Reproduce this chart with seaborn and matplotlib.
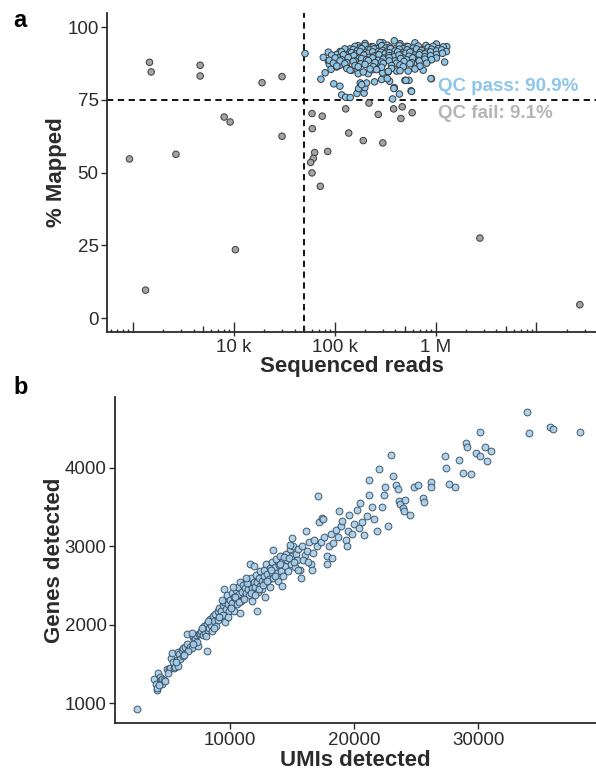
import numpy as np
import pandas as pd
import matplotlib
matplotlib.use("Agg")
import matplotlib.pyplot as plt
import seaborn as sns

# ---------------- data: panel a (reads in thousands, % mapped) ----------------
fail_reads_k = [0.925, 1.46, 1.517, 1.334, 2.67, 4.64, 4.64, 8.02, 9.19, 10.37,
                19.06, 30.06, 30.06, 59.6, 75.3, 60.0, 137.7, 192.0, 300.0, 128.5,
                218.9, 270.4, 383.7, 467.0, 453.0, 586.0, 85.3, 63.3, 61.4, 57.8,
                59.6, 72.0, 2750.0, 26900.0]
fail_mapped = [54.7, 87.9, 84.6, 9.6, 56.3, 86.9, 83.2, 69.1, 67.4, 23.5,
               80.9, 83.0, 62.5, 70.3, 69.4, 65.1, 63.6, 61.0, 60.2, 71.9,
               73.9, 70.0, 71.9, 72.6, 68.6, 70.6, 57.3, 56.9, 54.9, 53.5,
               49.9, 45.3, 27.5, 4.6]

pass_reads_k = [
    50.8, 86.5, 88.6, 92.1, 80.4, 73.0, 97.9, 112.6, 117.2, 128.5, 142.6, 166.3, 195.6, 172.8,
    179.3, 199, 207, 248, 292, 350, 390, 375, 438, 497, 545, 572, 910, 1230, 298, 340, 411,
    535, 686, 754, 825, 104.7, 112.6, 131.6, 147.5, 171, 215, 241, 270, 185, 332, 386, 508, 578, 900,
    300, 390,
    171, 200, 232, 281, 332, 444, 516, 624, 802, 1020, 1290,
    142, 159, 178, 200, 215, 241, 264, 292, 322, 353, 396, 437, 478, 535, 600, 673, 754, 845, 947, 1060, 1190,
    113, 126, 142, 153, 167, 185, 203, 224, 245, 270, 299, 327, 358, 396, 437, 478, 523, 578, 648, 727, 815, 913, 1020, 1150, 1280,
    86.5, 105, 117, 132, 147, 163, 178, 196, 215, 238, 260, 287, 315, 347, 381, 421, 461, 508, 557, 624, 700, 784, 892, 1020, 1170,
    77.1, 93.3, 109, 122, 140, 155, 175, 195, 219, 245, 275, 308, 345, 387, 434, 486, 545, 611, 689, 784, 892, 1020,
    88.5, 101, 117, 136, 159, 185, 207, 238, 270, 303, 347, 396, 450, 516, 592, 679, 784, 913,
    96.9, 113, 132, 153, 181, 215, 251, 292, 347, 411, 486, 578, 689, 815,
    105, 126, 159, 200, 241, 303, 366, 444, 557, 700,
    132, 171, 224, 292, 366, 478, 624,
    142, 192, 260, 340, 444,
]
pass_mapped = [
    90.9, 88.3, 87.2, 85.5, 84.3, 82.1, 80.5, 79.7, 76.7, 75.9, 75.8, 77.2, 77.3, 78.9,
    80.8, 79.2, 80.8, 81.2, 82.0, 81.4, 79.2, 75.3, 77.0, 81.7, 81.7, 78.1, 82.3, 88.0, 84.3, 84.6, 84.9,
    84.9, 86.7, 85.2, 88.0, 86.3, 86.9, 86.3, 85.2, 84.0, 84.0, 85.4, 85.8, 80.2, 82.3, 78.9, 81.7, 77.9, 82.3,
    94.6, 95.3,
    93.6, 94.4, 93.3, 94.7, 93.8, 94.3, 93.4, 94.6, 93.7, 94.2, 93.3,
    92.5, 93.4, 92.8, 93.7, 92.4, 93.2, 92.6, 93.6, 92.8, 93.1, 92.5, 93.7, 92.6, 93.3, 92.8, 93.5, 92.3, 93.0, 93.4, 92.6, 93.2,
    91.6, 92.5, 91.4, 92.3, 91.8, 92.6, 91.3, 92.2, 92.5, 91.6, 92.0, 91.4, 92.6, 91.8, 92.4, 91.3, 92.2, 91.6, 92.5, 92.0, 91.4, 92.4, 91.8, 92.2, 91.6,
    91.4, 90.6, 91.5, 90.4, 91.2, 90.8, 91.6, 90.5, 91.0, 91.5, 90.3, 91.4, 90.8, 91.2, 90.4, 91.5, 90.6, 91.0, 91.4, 90.4, 91.2, 90.8, 91.5, 90.6, 91.0,
    89.6, 90.4, 89.4, 90.5, 89.8, 90.2, 89.3, 90.4, 89.6, 90.0, 90.5, 89.4, 90.2, 89.8, 90.4, 89.3, 90.0, 89.6, 90.5, 89.8, 90.2, 89.4,
    88.6, 89.4, 88.8, 89.5, 88.4, 89.2, 88.8, 89.4, 88.6, 89.0, 89.5, 88.4, 89.2, 88.8, 89.4, 88.6, 89.0, 88.8,
    87.6, 88.4, 87.8, 88.2, 87.4, 88.5, 87.8, 88.0, 88.4, 87.6, 88.2, 87.8, 88.4, 87.6,
    86.6, 87.4, 86.8, 87.2, 86.4, 87.5, 86.8, 87.0, 87.4, 86.6,
    85.8, 86.4, 85.6, 86.2, 85.8, 86.4, 85.6,
    85.2, 84.6, 85.4, 84.8, 85.0,
]

read_threshold = 50000
mapped_threshold = 75
x_tick_values = [1e4, 1e5, 1e6]
x_tick_labels = ["10 k", "100 k", "1 M"]
y_ticks_a = [0, 25, 50, 75, 100]
pass_label = "QC pass: 90.9%"
fail_label = "QC fail: 9.1%"

# ---------------- data: panel b (UMIs, genes) ----------------
umis = [
    2500, 3900, 4050, 4100, 4150, 4200, 4350, 4450, 4500, 4550, 4700, 4800, 4900, 5050, 5150,
    5250, 5300, 5400, 5500, 5600, 5700, 5800, 5900, 6000, 6100, 6200, 6250, 6400, 6500, 6550,
    6700, 6800, 6900, 7000, 7100, 7200, 7300, 7400, 7500, 7600, 7700, 7800, 7900, 8000, 8100,
    8150, 8250, 8300, 8400, 8500, 8550, 8600, 8700, 8800, 8900, 9000, 9050, 9150, 9200, 9300,
    9400, 9450, 9550, 9600, 9700, 9750, 9850, 9900, 10000, 10050, 10150, 10200, 10300, 10350, 10450,
    10500, 10600, 10650, 10750, 10800, 10900, 11000, 11050, 11150, 11200, 11300, 11350, 11450, 11500, 11600,
    11650, 11750, 11800, 11900, 12000, 12100, 12150, 12250, 12300, 12400, 12450, 12550, 12600, 12700, 12750,
    12850, 12900, 13000, 13100, 13200, 13250, 13350, 13400, 13500, 13600, 13700, 13800, 13850, 13950, 14000,
    14100, 14200, 14300, 14400, 14500, 14600, 14700, 14800, 14900, 15000, 15100, 15200, 15300, 15400, 15500,
    15600, 15800, 16000, 16200, 16400, 16500, 16700, 17000, 17100, 17200, 17300, 17400, 17600, 17800, 18000,
    18100, 18300, 18500, 18700, 18900, 19000, 17800, 19300, 19500, 19600, 19800, 20000, 20200, 20400, 20600,
    20800, 21000, 21200, 21200, 21400, 21600, 22000, 22200, 22400, 22700, 23000, 23100, 23400, 23500, 23600,
    23700, 23900, 24100, 24000, 24800, 25100, 25500, 25600, 26200, 26200, 27300, 27400, 27600, 28100, 28400,
    28800, 29000, 29100, 29400, 29800, 30100, 30100, 30500, 30700, 31000, 33900, 34100, 35800, 36000, 38200,
    8200, 8700, 9100, 9350, 9800, 10100, 10400, 10700, 11100, 11400, 11700, 12050, 12350, 12650, 12950,
    13300, 13650, 14050, 14350, 14750, 15150, 15450, 15900, 16300, 16800, 7350, 6600, 5850, 10250, 11250,
    11600, 14800, 12150, 8170, 6900,
    9500, 10800, 11900, 12800, 13500, 14200, 15000, 15700, 16100, 16600, 17500, 18200, 18800, 19400,
    20500, 21800, 22500, 24500, 4300, 5000, 5650, 6300, 7050, 7750,
]
genes = [
    930, 1310, 1240, 1170, 1200, 1390, 1340, 1300, 1250, 1310, 1300, 1290, 1440, 1440, 1450,
    1580, 1640, 1530, 1450, 1460, 1550, 1650, 1630, 1560, 1680, 1700, 1600, 1720, 1760, 1880,
    1690, 1720, 1700, 1850, 1800, 1830, 1870, 1730, 1880, 1900, 1920, 1870, 1990, 1900, 1860,
    2010, 1930, 1960, 2080, 2000, 1920, 2110, 2050, 2140, 1990, 2180, 2060, 2220, 2110, 2180,
    2250, 2130, 2290, 2040, 2200, 2380, 2260, 2170, 2320, 2230, 2400, 2280, 2360, 2170, 2440,
    2330, 2260, 2480, 2390, 2540, 2300, 2420, 2510, 2350, 2470, 2410, 2560, 2450, 2380, 2520,
    2600, 2470, 2300, 2550, 2480, 2640, 2540, 2420, 2590, 2500, 2680, 2560, 2450, 2620, 2700,
    2540, 2780, 2650, 2580, 2720, 2480, 2660, 2800, 2600, 2730, 2840, 2660, 2560, 2760, 2880,
    2690, 2800, 2620, 2750, 2900, 2820, 2680, 2960, 2780, 2870, 3000, 2740, 2900, 2820, 2960,
    2700, 3010, 2890, 2940, 3060, 2780, 2920, 3000, 3640, 3310, 3050, 3360, 3120, 2880, 3000,
    3160, 3040, 3210, 3120, 3260, 3320, 2780, 3080, 3200, 3400, 3160, 3290, 3460, 3230, 3310,
    3140, 3380, 3850, 3650, 3500, 3350, 3980, 3500, 3650, 3260, 4160, 3900, 3780, 3730, 3580,
    3540, 3490, 3590, 3450, 3760, 3780, 3610, 3560, 3815, 3750, 4150, 4000, 3790, 3760, 4100,
    3940, 4320, 4270, 3920, 4190, 4150, 4450, 4260, 4090, 4210, 4710, 4440, 4520, 4490, 4460,
    2050, 1960, 2100, 2310, 2100, 2210, 2350, 2290, 2330, 2530, 2400, 2380, 2460, 2510, 2560,
    2700, 2620, 2770, 2860, 2850, 2800, 2700, 2830, 2800, 3080, 1780, 1660, 1480, 2480, 2600,
    2780, 3020, 2180, 1670, 1900,
    2450, 2150, 2750, 2350, 2950, 2500, 3100, 2600, 3200, 2700, 3350, 2850, 3450, 3000,
    3550, 3200, 3750, 3400, 1230, 1380, 1530, 1620, 1760, 1960,
]
x_ticks_b = [10000, 20000, 30000]
y_ticks_b = [1000, 2000, 3000, 4000]

# ---------------- styling ----------------
sns.set_theme(style="ticks")
plt.rcParams["font.family"] = ["Liberation Sans", "DejaVu Sans"]
ink = "#2b2b2b"
pass_col = "#8cc6ea"
fail_col = "#a3a3a3"
text_pass = "#8cc6ea"
text_fail = "#b5b5b5"

fig = plt.figure(figsize=(5.96, 7.74), dpi=100)

# ---------------- panel a ----------------
df_a = pd.DataFrame({
    "reads": np.array(fail_reads_k + pass_reads_k) * 1000.0,
    "mapped": fail_mapped + pass_mapped,
})
df_a["qc"] = np.where((df_a["reads"] >= read_threshold) & (df_a["mapped"] >= mapped_threshold),
                      "pass", "fail")

ax = fig.add_axes([0.1795, 0.571, 0.8205, 0.412])
sns.scatterplot(data=df_a, x="reads", y="mapped", hue="qc",
                palette={"pass": pass_col, "fail": fail_col},
                edgecolor="#3a3a3a", linewidth=0.7, s=22, alpha=1.0,
                legend=False, ax=ax, zorder=3)
ax.set_xscale("log")
ax.set_xlim(10 ** 2.743, 10 ** 7.59)
ax.set_ylim(-4.8, 104.8)
ax.axvline(read_threshold, color="black", ls=(0, (3.5, 2.5)), lw=1.3, zorder=2)
ax.axhline(mapped_threshold, color="black", ls=(0, (3.5, 2.5)), lw=1.3, zorder=2)

ax.xaxis.set_major_locator(matplotlib.ticker.FixedLocator(x_tick_values))
ax.xaxis.set_major_formatter(matplotlib.ticker.FixedFormatter(x_tick_labels))
ax.xaxis.set_minor_locator(matplotlib.ticker.NullLocator())
ax.set_yticks(y_ticks_a)

# annotation_logticks style ticks along the bottom
lo, hi = ax.get_xlim()
for k in range(2, 8):
    for m in range(1, 10):
        v = m * 10 ** k
        if lo <= v <= hi:
            h = 0.032 if m == 1 else (0.019 if m == 5 else 0.011)
            ax.vlines(v, 0, h, transform=ax.get_xaxis_transform(), color=ink, lw=1.0,
                      clip_on=False, zorder=4)

ax.text(1.055e6, 79.7, pass_label, color=text_pass, fontsize=13.5, fontweight="bold",
        va="center", ha="left")
ax.text(1.055e6, 70.2, fail_label, color=text_fail, fontsize=13.5, fontweight="bold",
        va="center", ha="left")

ax.set_xlabel("Sequenced reads", fontsize=16, fontweight="bold", color=ink, labelpad=0)
ax.set_ylabel("% Mapped", fontsize=16, fontweight="bold", color=ink, labelpad=0)

# ---------------- panel b ----------------
df_b = pd.DataFrame({"umis": umis, "genes": genes})
bx = fig.add_axes([0.193, 0.0655, 0.807, 0.4216])
sns.scatterplot(data=df_b, x="umis", y="genes", color="#a9cde8", edgecolor="#2f4a5e",
                linewidth=0.7, s=24, alpha=0.9, legend=False, ax=bx, zorder=3)
bx.set_xlim(741, 39470)
bx.set_ylim(745, 4902)
bx.set_xticks(x_ticks_b)
bx.set_yticks(y_ticks_b)
bx.set_xlabel("UMIs detected", fontsize=16, fontweight="bold", color=ink, labelpad=1)
bx.set_ylabel("Genes detected", fontsize=16, fontweight="bold", color=ink, labelpad=0)

for a_ in (ax, bx):
    sns.despine(ax=a_)
    for sp in ("left", "bottom"):
        a_.spines[sp].set_color(ink)
        a_.spines[sp].set_linewidth(1.3)
    a_.tick_params(axis="both", which="major", direction="out", length=4, width=1.0,
                   color=ink, labelsize=13.5, labelcolor=ink, pad=2)
    a_.grid(False)
ax.tick_params(axis="x", length=3)

fig.text(0.022, 0.974, "a", fontsize=17, fontweight="bold", color="black", va="center")
fig.text(0.022, 0.499, "b", fontsize=17, fontweight="bold", color="black", va="center")

fig.savefig("out.png", dpi=100)
